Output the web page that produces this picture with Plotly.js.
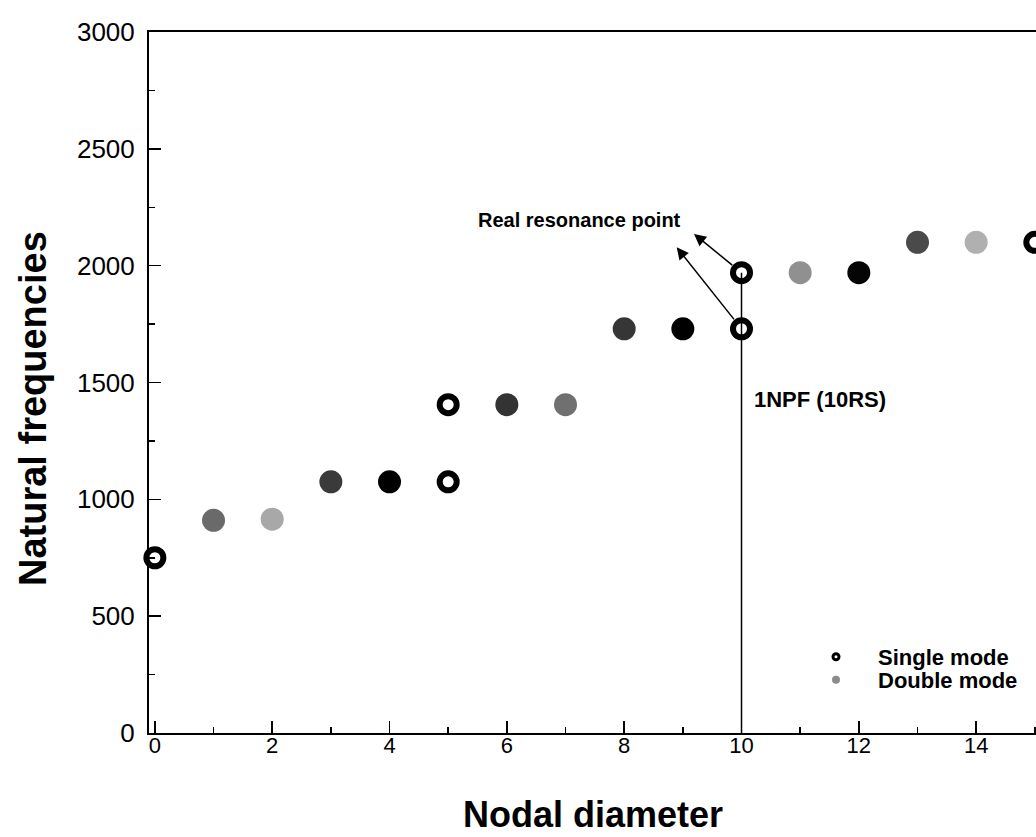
<!DOCTYPE html>
<html><head><meta charset="utf-8">
<script src="https://cdn.plot.ly/plotly-3.0.1.min.js"></script>
<style>html,body{margin:0;padding:0;background:#fff;overflow:hidden}#chart{width:1036px;height:837px}</style>
</head><body><div id="chart"></div>
<script>
// ---- data ----
const singleX = [0, 5, 5, 10, 10, 15];
const singleY = [750, 1075, 1405, 1730, 1970, 2100];
const doubleX = [1, 2, 3, 4, 6, 7, 8, 9, 11, 12, 13, 14];
const doubleY = [910, 915, 1075, 1075, 1405, 1405, 1730, 1730, 1970, 1970, 2100, 2100];
const xTicks = [0, 2, 4, 6, 8, 10, 12, 14];
const yTicks = [0, 500, 1000, 1500, 2000, 2500, 3000];
const seriesNames = ['Single mode', 'Double mode'];
const resonanceLabel = 'Real resonance point';
const lineLabel = '1NPF (10RS)';
const xTitle = 'Nodal diameter';
const yTitle = 'Natural frequencies';

// ---- styles ----
const doubleShades = ['#6a6a6a','#a8a8a8','#3a3a3a','#000000','#333333','#707070','#363636','#000000','#909090','#050505','#4a4a4a','#b0b0b0'];
const FONT = 'Liberation Sans, Arial, sans-serif';

// plot box in pixels (for paper placement)
const L = 149, T = 32, R = 1036, B = 733;
const px = v => (v - L) / (R - L);
const py = v => (B - v) / (B - T);

const traces = [
  {
    x: doubleX, y: doubleY, type: 'scatter', mode: 'markers', showlegend: false, cliponaxis: false,
    marker: {symbol: 'circle', size: 23, color: doubleShades, line: {width: 0}}
  },
  {
    x: singleX, y: singleY, type: 'scatter', mode: 'markers', showlegend: false, cliponaxis: false,
    marker: {symbol: 'circle-open', size: 17, color: '#000', line: {width: 6, color: '#000'}}
  },
  {
    x: [null], y: [null], type: 'scatter', mode: 'markers', name: seriesNames[0], legend: 'legend',
    marker: {symbol: 'circle-open', size: 6, color: '#000', line: {width: 3, color: '#000'}}
  },
  {
    x: [null], y: [null], type: 'scatter', mode: 'markers', name: seriesNames[1], legend: 'legend2',
    marker: {symbol: 'circle', size: 8, color: '#8c8c8c'}
  }
];

const legendFont = {family: FONT, size: 22, color: '#000', weight: 700};
const layout = {
  width: 1036, height: 837,
  margin: {l: L, r: 1036 - R, t: T, b: 837 - B, pad: 0},
  paper_bgcolor: '#fff', plot_bgcolor: '#fff',
  showlegend: true,
  xaxis: {
    range: [-0.1, 15.02], tickmode: 'array', tickvals: xTicks, ticktext: xTicks.map(String),
    ticks: 'inside', ticklen: 12, tickwidth: 1.5, tickcolor: '#000',
    minor: {dtick: 1, tick0: 0, ticks: 'inside', ticklen: 6, tickwidth: 1.5, tickcolor: '#000'},
    showline: true, linewidth: 2, linecolor: '#000', mirror: true,
    showgrid: false, zeroline: false, ticklabelstandoff: -8,
    tickfont: {family: FONT, size: 22, color: '#000'}
  },
  yaxis: {
    range: [0, 3000], tickmode: 'array', tickvals: yTicks, ticktext: yTicks.map(String),
    ticks: 'inside', ticklen: 12, tickwidth: 1.5, tickcolor: '#000',
    minor: {dtick: 250, tick0: 0, ticks: 'inside', ticklen: 6, tickwidth: 1.5, tickcolor: '#000'},
    showline: true, linewidth: 2, linecolor: '#000', mirror: false,
    showgrid: false, zeroline: false, ticklabelstandoff: 7,
    tickfont: {family: FONT, size: 26, color: '#000'}
  },
  legend: {
    x: px(794), y: py(657), xanchor: 'left', yanchor: 'middle', bgcolor: 'rgba(0,0,0,0)',
    borderwidth: 0, itemwidth: 74, font: legendFont
  },
  legend2: {
    x: px(794), y: py(680), xanchor: 'left', yanchor: 'middle', bgcolor: 'rgba(0,0,0,0)',
    borderwidth: 0, itemwidth: 74, font: legendFont
  },
  shapes: [
    {type: 'line', xref: 'x', yref: 'y', layer: 'below',
     x0: singleX[4], x1: singleX[4], y0: 0, y1: singleY[4],
     line: {color: '#000', width: 1.5}}
  ],
  annotations: [
    {xref: 'paper', yref: 'paper', x: px(33), y: py(409), text: yTitle, showarrow: false,
     textangle: -90, xanchor: 'center', yanchor: 'middle',
     font: {family: FONT, size: 38, color: '#000', weight: 700}},
    {xref: 'paper', yref: 'paper', x: px(593), y: py(836), text: xTitle, showarrow: false,
     xanchor: 'center', yanchor: 'bottom', borderpad: 0,
     font: {family: FONT, size: 36, color: '#000', weight: 700}},
    {xref: 'x', yref: 'y', x: 9.0, y: 2196, text: resonanceLabel, showarrow: false,
     xanchor: 'right', yanchor: 'middle',
     font: {family: FONT, size: 20, color: '#000', weight: 700}},
    {xref: 'x', yref: 'y', x: 10.18, y: 1427, text: lineLabel, showarrow: false,
     xanchor: 'left', yanchor: 'middle',
     font: {family: FONT, size: 22, color: '#000', weight: 700}},
    {xref: 'x', yref: 'y', x: singleX[4], y: singleY[4], text: '', showarrow: true,
     ax: -49, ay: -40, arrowside: 'start', startarrowhead: 2, startarrowsize: 1.6, arrowwidth: 1.5,
     arrowcolor: '#000', standoff: 12, startstandoff: 0},
    {xref: 'x', yref: 'y', x: singleX[3], y: singleY[3], text: '', showarrow: true,
     ax: -66, ay: -83, arrowside: 'start', startarrowhead: 2, startarrowsize: 1.6, arrowwidth: 1.5,
     arrowcolor: '#000', standoff: 12, startstandoff: 0}
  ]
};

Plotly.newPlot('chart', traces, layout, {displayModeBar: false, staticPlot: true});
</script>
</body></html>
